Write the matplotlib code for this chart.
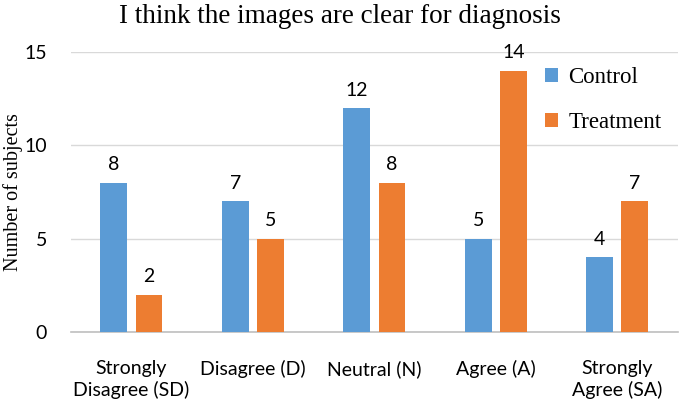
import numpy as np
import matplotlib.pyplot as plt

categories = ['Strongly\nDisagree (SD)', 'Disagree (D)', 'Neutral (N)', 'Agree (A)', 'Strongly\nAgree (SA)']
control = [8, 7, 12, 5, 4]
treatment = [2, 5, 8, 14, 7]

blue = '#5B9BD5'
orange = '#ED7D31'
sans = 'Lato'
serif = 'Liberation Serif'

fig = plt.figure(figsize=(6.8, 4.01), dpi=100)
ax = fig.add_axes([0.104, 0.172, 0.893, 0.698])

x = np.arange(len(categories))
w = 0.22
off = 0.145
b1 = ax.bar(x - off, control, w, color=blue, label='Control', zorder=3)
b2 = ax.bar(x + off, treatment, w, color=orange, label='Treatment', zorder=3)

for bars in (b1, b2):
    for b in bars:
        ax.text(b.get_x() + b.get_width() / 2, b.get_height() + 0.5, str(int(b.get_height())),
                ha='center', va='bottom', fontsize=14, family=sans, zorder=4)

ax.set_ylim(0, 15)
ax.set_xlim(-0.5, 4.5)
ax.set_yticks([0, 5, 10, 15])
ax.yaxis.grid(True, color='#D9D9D9', linewidth=1, zorder=0)
ax.set_axisbelow(True)
for s in ['top', 'right', 'left']:
    ax.spines[s].set_visible(False)
ax.spines['bottom'].set_color('#BFBFBF')
ax.spines['bottom'].set_linewidth(1.2)
ax.tick_params(axis='both', length=0, labelsize=14)
ax.tick_params(axis='y', pad=17)
ax.tick_params(axis='x', pad=20)
ax.set_xticks(x)
ax.set_xticklabels(categories, family=sans, linespacing=1.3)
for t in ax.get_yticklabels():
    t.set_family(sans)

ax.set_ylabel('Number of subjects', family=serif, fontsize=14.5, labelpad=1)
fig.suptitle('I think the images are clear for diagnosis', family=serif, fontsize=19.5, y=0.99)

leg = ax.legend(loc='upper left', bbox_to_anchor=(0.755, 1.005), frameon=True, framealpha=1,
                edgecolor='none', prop={'family': serif, 'size': 16.5}, handlelength=0.55,
                handleheight=0.55, handletextpad=0.45, labelspacing=1.05, borderpad=0.2)

fig.savefig('out.png', dpi=100)
